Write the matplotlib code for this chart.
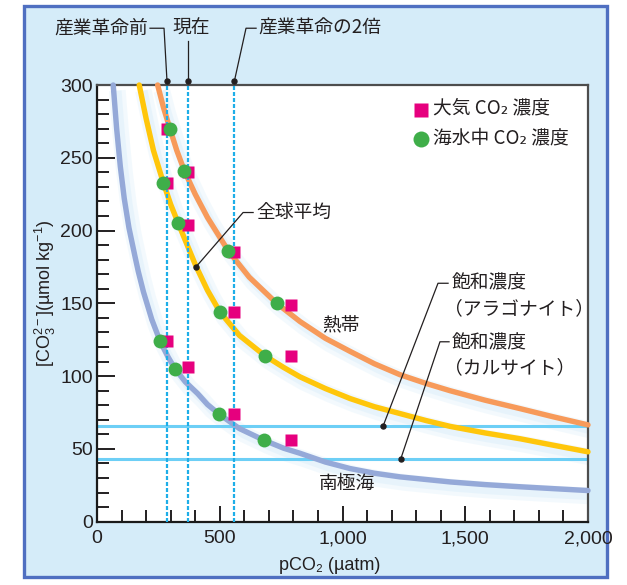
import matplotlib
matplotlib.use("Agg")
import matplotlib.pyplot as plt
import matplotlib.transforms as mtransforms
from matplotlib.patches import Rectangle
from matplotlib.ticker import MultipleLocator

# --- fonts ---
plt.rcParams["font.family"] = ["Liberation Sans", "Noto Sans CJK JP", "DejaVu Sans"]
plt.rcParams["mathtext.fontset"] = "custom"
plt.rcParams["mathtext.rm"] = "Liberation Sans"
plt.rcParams["mathtext.it"] = "Liberation Sans:italic"
plt.rcParams["mathtext.bf"] = "Liberation Sans:bold"
JP = ["Noto Sans CJK JP", "DejaVu Sans"]

# --- data ---
# carbonate ion curves vs pCO2
TROP_X = [247, 270, 297, 325, 356, 400, 450, 535, 620, 732, 827, 930, 1031,
          1130, 1234, 1340, 1438, 1580, 1723, 1860, 2000]
TROP_Y = [300, 285, 270, 255, 241, 225, 209, 186, 168, 150, 137.5, 126, 117,
          108.5, 101, 95, 90, 83.5, 77.7, 72, 66.5]

GLOB_X = [172, 200, 230, 270, 300, 331, 370, 402, 450, 501, 580, 684, 760,
          827, 930, 1031, 1130, 1234, 1340, 1438, 1580, 1723, 1860, 2000]
GLOB_Y = [300, 277, 255, 233, 218, 205, 189, 176, 159, 144, 128, 114, 106,
          99.5, 91.5, 84.6, 79, 74.3, 69.5, 65.5, 61, 57, 52.5, 48]

SO_X = [66, 80, 95, 111, 130, 155, 168, 189, 223, 257, 290, 318, 360, 410,
        450, 497, 580, 680, 760, 827, 930, 1031, 1130, 1234, 1340, 1440, 1580,
        1723, 1860, 2000]
SO_Y = [300, 270, 244, 222, 202, 182, 172, 158, 139, 124, 113, 105, 96, 88,
        80.5, 74, 64, 56, 50.5, 47, 41, 36.5, 33.3, 30.8, 29, 27.3, 25.5,
        24, 22.7, 21.4]

# atmospheric CO2 (squares) and seawater CO2 (circles)
ATM_X = [285, 370, 560, 790, 285, 370, 560, 790, 285, 370, 560, 790]
ATM_Y = [270, 240, 185, 149, 233, 204, 144, 114, 124, 106, 74, 56]
SEA_X = [297, 356, 535, 732, 270, 331, 501, 684, 257, 318, 497, 680]
SEA_Y = [270, 241, 186, 150, 233, 205, 144, 114, 124, 105, 74, 56]

# reference pCO2 levels and saturation levels
PCO2_REF = [285, 370, 560]
ARAGONITE = 66
CALCITE = 43

X_TICKS = [0, 500, 1000, 1500, 2000]
Y_TICKS = [0, 50, 100, 150, 200, 250, 300]

# --- colours ---
C_TROP = "#f79a5a"
C_GLOB = "#ffc60b"
C_SO = "#95a9d8"
C_PINK = "#e6007e"
C_GREEN = "#3fae49"
C_DASH = "#1eaee8"
C_SAT = "#6dcff6"
C_TEXT = "#231f20"
C_PANEL = "#d5ecf9"
C_BORDER = "#4f6fc1"

W, H = 627, 585
fig = plt.figure(figsize=(W / 100, H / 100), dpi=100)
fig.patch.set_facecolor("white")

# light blue panel with border
fig.patches.append(Rectangle((24 / W, 1 - 577 / H), (607 - 24) / W, (577 - 6) / H,
                             transform=fig.transFigure, facecolor=C_PANEL,
                             edgecolor=C_BORDER, linewidth=2.4, zorder=-10))

ax = fig.add_axes([97 / W, 63.3 / H, 491 / W, 436.7 / H])
ax.set_zorder(1)
ax.set_facecolor("white")
ax.set_xlim(0, 2000)
ax.set_ylim(0, 300)

# soft halo under curves
halo = ax.transData + mtransforms.ScaledTranslation(3 / 72, -4 / 72, fig.dpi_scale_trans)
for xs, ys in [(TROP_X, TROP_Y), (GLOB_X, GLOB_Y), (SO_X, SO_Y)]:
    ax.plot(xs, ys, color="#c4e5f8", lw=12, alpha=0.2, transform=halo,
            solid_capstyle="butt", zorder=1)
    ax.plot(xs, ys, color="#c4e5f8", lw=6, alpha=0.25, transform=halo,
            solid_capstyle="butt", zorder=1)

# saturation lines
ax.axhline(ARAGONITE, color=C_SAT, lw=2.2, zorder=2)
ax.axhline(CALCITE, color=C_SAT, lw=2.2, zorder=2)

# curves
for xs, ys, c in [(TROP_X, TROP_Y, C_TROP), (GLOB_X, GLOB_Y, C_GLOB), (SO_X, SO_Y, C_SO)]:
    ax.plot(xs, ys, color=c, lw=3.9, solid_capstyle="round",
            solid_joinstyle="round", clip_on=False, zorder=3)

# reference pCO2 dashed lines
for x in PCO2_REF:
    ax.axvline(x, color=C_DASH, lw=1.6, ls=(0, (1.8, 0.9)), zorder=4)

ax.plot(ATM_X, ATM_Y, ls="none", marker="s", ms=8.5, mfc=C_PINK, mec="none", zorder=5)
ax.plot(SEA_X, SEA_Y, ls="none", marker="o", ms=10, mfc=C_GREEN, mec="none", zorder=6)

# axes styling
for s in ["left", "bottom"]:
    ax.spines[s].set_color("#1a1a1a")
    ax.spines[s].set_linewidth(1.6)
for s in ["top", "right"]:
    ax.spines[s].set_color("#4d4d4d")
    ax.spines[s].set_linewidth(1.6)

ax.set_xticks(X_TICKS)
ax.set_xticklabels([f"{v:,}" for v in X_TICKS])
ax.set_yticks(Y_TICKS)
ax.xaxis.set_minor_locator(MultipleLocator(100))
ax.yaxis.set_minor_locator(MultipleLocator(10))
ax.tick_params(axis="x", which="major", direction="in", length=11.5, width=1.4,
               pad=6, labelsize=14, colors=C_TEXT)
ax.tick_params(axis="x", which="minor", direction="in", length=8.4, width=1.4,
               colors=C_TEXT)
ax.tick_params(axis="y", which="major", direction="in", length=13, width=1.4,
               pad=3, labelsize=14, colors=C_TEXT)
ax.tick_params(axis="y", which="minor", direction="in", length=8.4, width=1.4,
               colors=C_TEXT)

fig.text(45 / W, 1 - 293 / H, r"[CO$_3^{2-}$](µmol kg$^{-1}$)", rotation=90,
         ha="center", va="center", fontsize=13, color=C_TEXT)
fig.text(329.5 / W, 1 - 565 / H, "pCO\u2082 (µatm)", ha="center", va="center",
         fontsize=13, color=C_TEXT)

# legend (manual)
ax.plot([0.660], [0.9428], transform=ax.transAxes, marker="s", ms=10.5,
        mfc=C_PINK, mec="none", ls="none", clip_on=False)
ax.plot([0.660], [0.8757], transform=ax.transAxes, marker="o", ms=11.5,
        mfc=C_GREEN, mec="none", ls="none", clip_on=False)
ax.text(0.684, 0.9470, "大気 CO\u2082 濃度", transform=ax.transAxes, ha="left",
        va="center", fontsize=13.5, family=JP, color=C_TEXT)
ax.text(0.684, 0.8780, "海水中 CO\u2082 濃度", transform=ax.transAxes, ha="left",
        va="center", fontsize=13.5, family=JP, color=C_TEXT)

# labels on curves
ax.text(994, 135, "熱帯", fontsize=13.5, family=JP, color=C_TEXT, ha="center", va="center")
ax.text(1018, 26.5, "南極海", fontsize=13.5, family=JP, color=C_TEXT, ha="center", va="center")


def leader(pts, dot):
    xs = [p[0] for p in pts]
    ys = [p[1] for p in pts]
    ax.plot(xs, ys, color=C_TEXT, lw=0.9, clip_on=False, zorder=7)
    ax.plot([dot[0]], [dot[1]], marker="o", ms=3.6, color=C_TEXT, clip_on=False, zorder=7)


# global mean
ax.text(651, 212.5, "全球平均", fontsize=13.5, family=JP, color=C_TEXT, ha="left", va="center")
leader([(402, 174.8), (595, 212.4), (636, 212.4)], (402, 174.8))

# aragonite
ax.text(1445, 163.8, "飽和濃度", fontsize=13.5, family=JP, color=C_TEXT, ha="left", va="center")
ax.text(1412, 146, "（アラゴナイト）", fontsize=13.5, family=JP, color=C_TEXT, ha="left", va="center")
leader([(1166, ARAGONITE), (1389, 163.8), (1430, 163.8)], (1166, ARAGONITE))

# calcite
ax.text(1445, 122.8, "飽和濃度", fontsize=13.5, family=JP, color=C_TEXT, ha="left", va="center")
ax.text(1412, 106, "（カルサイト）", fontsize=13.5, family=JP, color=C_TEXT, ha="left", va="center")
leader([(1237, CALCITE), (1397, 123.6), (1434, 123.6)], (1237, CALCITE))

# reference pCO2 labels above the axes
TOP_Y = 303
LAB_Y = 339
ax.text(208, LAB_Y, "産業革命前", fontsize=13.5, family=JP, color=C_TEXT, ha="right", va="center")
leader([(216, LAB_Y), (273, LAB_Y), (PCO2_REF[0], TOP_Y)], (PCO2_REF[0], TOP_Y))
ax.text(383, LAB_Y, "現在", fontsize=13.5, family=JP, color=C_TEXT, ha="center", va="center")
leader([(PCO2_REF[1], 330), (PCO2_REF[1], TOP_Y)], (PCO2_REF[1], TOP_Y))
ax.text(656, LAB_Y, "産業革命の2倍", fontsize=13.5, family=JP, color=C_TEXT, ha="left", va="center")
leader([(648, LAB_Y), (607, LAB_Y), (PCO2_REF[2], TOP_Y)], (PCO2_REF[2], TOP_Y))

fig.savefig("out.png", dpi=100)
